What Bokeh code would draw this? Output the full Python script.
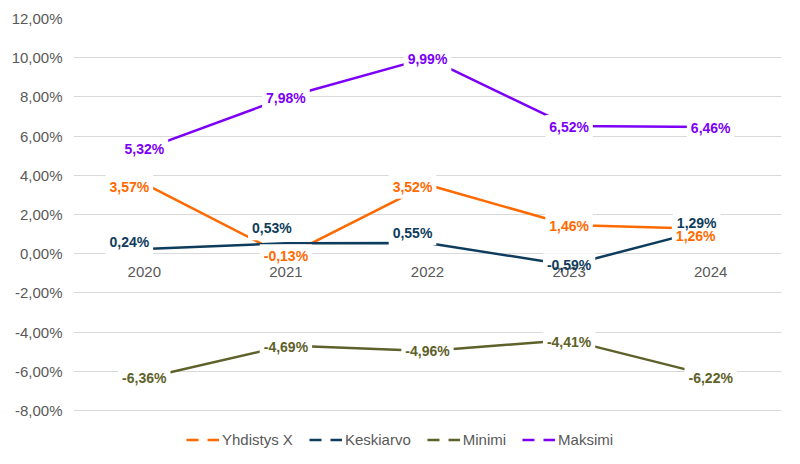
import math
from bokeh.plotting import figure
from bokeh.models import (ColumnDataSource, Range1d, FixedTicker, CustomJSTickFormatter,
                          Legend, LegendItem)
from bokeh.core.properties import value
from bokeh.embed import file_html
from bokeh.resources import INLINE

years = ["2020", "2021", "2022", "2023", "2024"]
series_names = ["Yhdistys X", "Keskiarvo", "Minimi", "Maksimi"]
yhdistys_x = [3.57, -0.13, 3.52, 1.46, 1.26]
keskiarvo = [0.24, 0.53, 0.55, -0.59, 1.29]
minimi = [-6.36, -4.69, -4.96, -4.41, -6.22]
maksimi = [5.32, 7.98, 9.99, 6.52, 6.46]
y_ticks = [-8, -6, -4, -2, 0, 2, 4, 6, 8, 10, 12]

# styling: colours and label nudges (screen px)
colors = ["#FF6A00", "#0E3C5C", "#5E6129", "#7C00F8"]
nudge_x = [[-15, 0, -15, 0, -15], [-15, -14, -15, 0, -14], [0, 0, 0, 0, 0], [0, 0, 0, 0, 0]]
nudge_y = [[3, 0, 2, 1, 7], [-7, -15, -10, 0, -5], [0, 1, 0, 2, 2], [0, 1, 1, 1, 1]]

FONT = "Liberation Sans"
GRAY = "#595959"

p = figure(width=784, height=448, output_backend="svg", toolbar_location=None,
           x_range=Range1d(-0.5, 4.5), y_range=Range1d(-9.94, 12),
           min_border_left=73, min_border_right=3, min_border_top=18, min_border_bottom=0)
p.outline_line_color = None
p.background_fill_color = "white"
p.border_fill_color = "white"
p.xaxis.visible = False
p.xgrid.grid_line_color = None

yax = p.yaxis[0]
yax.ticker = FixedTicker(ticks=y_ticks)
yax.formatter = CustomJSTickFormatter(code="return tick.toFixed(2).replace('.', ',') + '%';")
yax.axis_line_color = None
yax.major_tick_line_color = None
yax.minor_tick_line_color = None
yax.major_tick_out = 0
yax.major_tick_in = 0
yax.major_label_standoff = 11
yax.major_label_text_font = FONT
yax.major_label_text_font_size = "15px"
yax.major_label_text_color = GRAY
p.ygrid.grid_line_color = "#D9D9D9"
p.ygrid.grid_line_width = 1

xs = list(range(len(years)))
all_series = [yhdistys_x, keskiarvo, minimi, maksimi]

for vals, col in zip(all_series, colors):
    p.line(xs, vals, line_color=col, line_width=2.5)

label_sources = []
for i, vals in enumerate(all_series):
    label_sources.append(ColumnDataSource(dict(
        x=xs, y=vals, t=[f"{v:.2f}".replace(".", ",") + "%" for v in vals],
        dx=nudge_x[i], dy=nudge_y[i])))

label_style = dict(x="x", y="y", text="t", x_offset="dx", y_offset="dy",
                   text_align="center", text_baseline="middle", text_font=value(FONT),
                   text_font_size="14px", text_font_style="bold")

# pass 1: white boxes behind the data labels
for src in label_sources:
    p.text(source=src, text_alpha=0, background_fill_color="white", padding=4, **label_style)

# category labels sitting on the zero line
cat_src = ColumnDataSource(dict(x=xs, y=[0] * len(years), t=years))
p.text(x="x", y="y", text="t", source=cat_src, text_align="center", text_baseline="top",
       y_offset=13, text_font=value(FONT), text_font_size="15px", text_color=GRAY)

# pass 2: label texts
for src, col in zip(label_sources, colors):
    p.text(source=src, text_color=col, **label_style)

items = []
for name, col in zip(series_names, colors):
    proxy = p.line(x=[0, 1], y=[math.nan, math.nan], line_color=col, line_width=2.5,
                   line_dash="12 9")
    items.append(LegendItem(label=name, renderers=[proxy]))

legend = Legend(items=items, orientation="horizontal", location=(113, 0),
                border_line_color=None, background_fill_alpha=0, padding=0, margin=0,
                spacing=16, glyph_width=33, glyph_height=15, label_height=15,
                label_standoff=3, label_text_font=FONT, label_text_font_size="15px",
                label_text_color=GRAY)
p.add_layout(legend, "center")

open("out.html", "w").write(file_html(p, INLINE))
